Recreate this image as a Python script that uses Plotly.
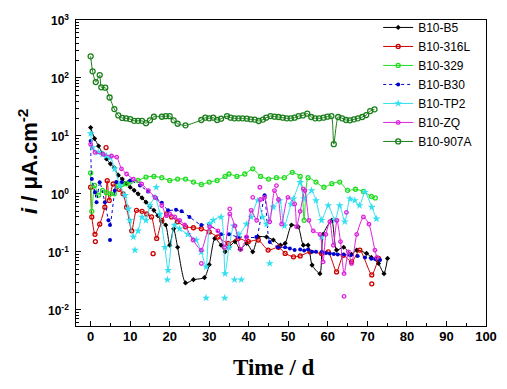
import math
import plotly.graph_objects as go

# ---------------- data ----------------
b5_x = [0, 1, 2, 3, 4, 5, 6, 7, 8, 9, 10, 11, 12, 13, 14, 15, 16, 17, 18, 19, 20, 21, 22, 24, 26, 28.8, 30,
        31.4, 33, 34, 35, 36.5, 37.8, 39.5, 41, 42.4, 44.5, 46.2, 48, 49.2, 50.8, 52.5, 53.8, 55, 56, 58, 58.8,
        61, 62.2, 64, 66, 67.3, 69.8, 71, 72.8, 74.2, 75.1]
b5_y = [13.9, 9.0, 6.7, 5.0, 4.0, 3.3, 2.8, 2.1, 1.8, 1.5, 1.3, 1.15, 1.0, 0.85, 0.72, 0.6, 0.52, 0.42, 0.33,
        0.29, 0.13, 0.25, 0.12, 0.029, 0.033, 0.036, 0.06, 0.17, 0.13, 0.1, 0.12, 0.15, 0.11, 0.14, 0.1, 0.18,
        0.18, 0.16, 0.13, 0.14, 0.29, 0.27, 0.13, 0.13, 0.059, 0.042, 0.2, 0.35, 0.107, 0.12, 0.09, 0.107, 0.094,
        0.08, 0.063, 0.042, 0.077]

l316_x = [0, 0.3, 1.1, 2.3, 3.6, 4.2, 4.7, 5.7, 7.2, 8.2, 9.1, 10.4, 11.6, 13, 14.2, 15.4, 16.7, 18, 19.2, 20.5,
          22, 24, 26, 28, 30, 32.2, 34.8, 37.3, 39.9, 42.4, 44.9, 47.5, 49.2, 51.3, 53, 55.5, 58.4, 60.1, 62.2,
          63.9, 66, 68.1, 71.1, 72.8]
l316_y = [1.3, 0.4, 0.2, 0.3, 0.59, 1.69, 0.77, 1.48, 1.2, 1.0, 0.59, 0.23, 0.52, 0.5, 0.45, 0.4, 0.17, 0.35,
          0.45, 0.4, 0.33, 0.27, 0.26, 0.25, 0.22, 0.18, 0.14, 0.17, 0.15, 0.16, 0.107, 0.12, 0.094, 0.082, 0.085,
          0.1, 0.094, 0.1, 0.045, 0.087, 0.067, 0.107, 0.04, 0.077]
l316_px = [1.2, 3.9, 15.8, 71.1]
l316_py = [0.15, 6.3, 0.093, 0.028]

s329_x = [0, 0.3, 1, 2, 3, 4, 5, 6, 7, 8, 9, 10, 12, 14, 16, 18, 20, 22, 24, 26, 28, 30, 32, 34, 35, 37, 39,
          41, 43, 45, 47, 49, 51, 53, 54, 55, 57, 59, 61, 63, 65, 67, 69, 71, 72]
s329_y = [2.3, 0.5, 1.4, 0.95, 1.15, 1.05, 1.0, 1.0, 1.4, 1.45, 1.5, 1.6, 1.7, 1.95, 2.0, 1.9, 1.7, 1.8, 1.8,
          1.6, 1.45, 1.6, 1.7, 2.0, 2.2, 2.0, 2.2, 2.7, 2.0, 1.8, 1.9, 1.9, 2.35, 2.0, 0.35, 1.9, 1.6, 1.3, 1.5,
          1.6, 1.15, 1.2, 1.1, 0.9, 0.85]

b30_x = [0, 0.3, 1.1, 1.5, 2.3, 3.6, 4.5, 4.9, 6.1, 6.5, 7.8, 10, 12.5, 14.5, 16.5, 18, 19.6, 21.6, 23, 25, 28,
         30, 33, 35, 37.3, 39.5, 41.9, 44, 45.3, 47.4, 49.2, 50.4, 51.6, 53, 54, 55, 56, 57, 58.5, 59.5, 60.5,
         61.5, 62.5, 64, 65.6, 67.5, 69.4, 71, 72, 73.2]
b30_y = [8.2, 1.8, 1.07, 0.72, 1.58, 0.72, 0.35, 0.29, 1.14, 1.6, 1.58, 1.7, 1.39, 1.1, 0.85, 0.7, 0.52, 0.53,
         0.5, 0.4, 0.29, 0.3, 0.2, 0.2, 0.18, 0.18, 0.18, 0.95, 0.148, 0.12, 0.12, 0.114, 0.107, 0.11, 0.105,
         0.11, 0.1, 0.1, 0.1, 0.095, 0.094, 0.092, 0.09, 0.09, 0.087, 0.085, 0.08, 0.076, 0.075, 0.072]
b30_px = [4.9]
b30_py = [0.16]

tp2_x = [0, 0.5, 1.9, 3, 4, 5, 6.1, 7.4, 8.7, 9.5, 9.9, 10.8, 12, 13, 14, 15, 16.3, 17.5, 18.8, 19.6, 21.2,
         22.5, 24.6, 26.7, 28, 29.2, 30.1, 31, 33, 34, 35, 36.2, 37.5, 39.4, 40.6, 42.3, 43.5, 44.5, 46.2, 47.8,
         49, 50.7, 51.3, 53, 54, 55.9, 57, 58.4, 60.1, 61.8, 63, 64.3, 65.6, 66.8, 68, 69.4, 71.1, 72.3]
tp2_y = [11, 6.3, 5.2, 4.8, 4.5, 4.2, 2.7, 1.39, 0.94, 0.55, 0.35, 0.18, 0.23, 0.4, 0.35, 0.63, 0.87, 0.45,
         0.12, 0.048, 0.29, 0.25, 0.2, 0.16, 0.1, 0.055, 0.3, 0.35, 0.4, 0.042, 0.12, 0.28, 0.2, 0.3, 0.4, 0.77,
         0.4, 0.3, 0.59, 0.77, 0.28, 0.67, 0.82, 1.58, 0.82, 1.14, 0.77, 0.35, 0.63, 0.35, 0.63, 0.33, 0.82,
         0.77, 0.63, 1.07, 0.59, 0.37]
tp2_px = [11.2, 16.6, 19.4, 29.2, 33.9, 36.4, 38.1, 45.3, 58.4]
tp2_py = [0.107, 1.3, 0.033, 0.016, 0.016, 0.033, 0.033, 0.063, 0.18]

zq_x = [0, 1.1, 3.2, 5.3, 6.6, 7.8, 9.1, 10.8, 12.9, 14.6, 16.3, 18, 19.2, 20, 21.3, 22.5, 23.8, 25.9, 28,
        30.1, 32.2, 33.9, 35.2, 36.5, 38, 39.4, 40.6, 42, 43, 44, 45.3, 46.5, 47.5, 48.3, 49.9, 51.6, 52.1, 53,
        54.2, 55.2, 56.3, 58, 58.8, 59.5, 60.5, 61.4, 62.3, 63.2, 64.1, 65.2, 66, 67.3, 69, 70.4, 71.9, 72.4]
zq_y = [7.2, 5.2, 4.8, 4.5, 4.3, 2.7, 2.2, 1.8, 1.48, 1.14, 0.87, 0.63, 0.42, 0.45, 0.4, 0.35, 0.29, 0.16,
        0.107, 0.27, 0.23, 0.12, 0.45, 0.28, 0.11, 0.18, 0.52, 0.35, 0.8, 0.87, 0.33, 1.14, 0.8, 0.3, 0.87, 0.67,
        0.27, 0.5, 1.14, 0.35, 0.23, 0.2, 0.067, 0.2, 0.33, 0.13, 0.35, 0.15, 0.042, 0.1, 0.063, 0.2, 0.4, 0.3,
        0.107, 0.08]
zq_px = [28, 35.2, 41, 42.8, 47, 53.8, 64.1, 64.7]
zq_py = [0.063, 0.55, 0.87, 1.3, 1.39, 1.22, 0.017, 0.48]

a907_x = [0, 0.5, 1.3, 2.3, 2.7, 3.7, 4.8, 6, 7, 8, 9, 10, 11, 12, 13, 14, 15, 16, 18, 19, 20, 21, 22, 24, 28,
          29, 30, 31, 32, 33, 34.5, 35.4, 36.4, 37.4, 38.4, 39.5, 40.5, 41.5, 42.5, 43.6, 44.4, 45.5, 46.5,
          47.5, 48.6, 49.6, 50.6, 51.6, 52.6, 53.7, 54.8, 55.8, 56.8, 57.8, 58.9, 59.9, 60.9, 61.5, 62.6, 63.6,
          64.6, 65.6, 66.6, 67.6, 68.7, 69.7, 70.7, 71.8]
a907_y = [236, 130, 85, 112, 69, 68, 46, 29, 22.6, 20.4, 20, 19.5, 18.2, 18.2, 18.2, 16.6, 18.6, 21.4, 21.4,
          21.9, 21.9, 18.6, 16.2, 15.2, 18.8, 20.6, 20.1, 20.6, 18.8, 19.8, 22, 20.6, 20.1, 20.1, 20.1, 19.8,
          19.3, 19.1, 18.1, 19.1, 20.6, 22, 21.5, 21.2, 20.6, 20.1, 20.1, 20.6, 22, 22.6, 24.2, 21.2, 20.1, 20.1,
          20.6, 21.5, 22, 7.2, 21.2, 20.1, 18.8, 18.6, 19.3, 20.1, 21.2, 22.9, 26.8, 28.7]

x_ticks = [0, 10, 20, 30, 40, 50, 60, 70, 80, 90, 100]
y_ticks = [0.01, 0.1, 1, 10, 100, 1000]
y_tick_text = ["10<sup>-2</sup>", "10<sup>-1</sup>", "10<sup>0</sup>", "10<sup>1</sup>", "10<sup>2</sup>",
               "10<sup>3</sup>"]
x_title = "Time / d"
y_title = "<i>i</i> / μA.cm<sup>-2</sup>"

# ---------------- figure ----------------
series = [
    ("B10-B5", b5_x, b5_y, None, None, "#000000", "diamond", 4, "solid"),
    ("B10-316L", l316_x, l316_y, l316_px, l316_py, "#cc0000", "circle-open", 4, "solid"),
    ("B10-329", s329_x, s329_y, None, None, "#22dd22", "circle-open", 4, "solid"),
    ("B10-B30", b30_x, b30_y, b30_px, b30_py, "#0000cc", "circle", 4, "dot"),
    ("B10-TP2", tp2_x, tp2_y, tp2_px, tp2_py, "#33e0f0", "star", 6, "solid"),
    ("B10-ZQ", zq_x, zq_y, zq_px, zq_py, "#dd22dd", "circle-open", 3.5, "solid"),
    ("B10-907A", a907_x, a907_y, None, None, "#1a7f1a", "circle-open", 5, "solid"),
]

fig = go.Figure()
for name, xs, ys, pxs, pys, col, sym, sz, dash in series:
    mk = dict(symbol=sym, size=sz, color=col, line=dict(color=col, width=1.3 if "open" in sym else 0))
    fig.add_trace(go.Scatter(
        x=xs, y=ys, name=name, mode="lines+markers",
        line=dict(color=col, width=1, dash=dash, shape="spline", smoothing=0.6),
        marker=mk,
    ))
    if pxs:
        fig.add_trace(go.Scatter(
            x=pxs, y=pys, mode="markers", showlegend=False, hoverinfo="skip", marker=mk,
        ))

# y tick labels as text placed on the y-axis scale (log axis -> log10 of value)
for v, t in zip(y_ticks, y_tick_text):
    fig.add_annotation(x=-0.013, xref="paper", xanchor="right", y=math.log10(v), yref="y",
                       yanchor="middle", text=t, showarrow=False,
                       font=dict(family="Liberation Sans, Arial", size=12, color="black", weight="bold"))

# axis titles
fig.add_annotation(x=-0.117, xref="paper", y=0.536, yref="paper", xanchor="center", yanchor="middle",
                   text=y_title, textangle=-90, showarrow=False,
                   font=dict(family="Liberation Sans, Arial", size=22, color="black", weight="bold"))
fig.add_annotation(x=0.483, xref="paper", y=-0.137, yref="paper", xanchor="center", yanchor="middle",
                   text=x_title, showarrow=False,
                   font=dict(family="Liberation Serif, Times New Roman", size=23, color="black", weight="bold"))

axis_common = dict(
    showline=True, linecolor="black", linewidth=1.3, mirror=True, showgrid=False, zeroline=False,
    ticks="inside", ticklen=5, tickcolor="black", tickwidth=1,
)

fig.update_layout(
    width=499, height=381,
    margin=dict(l=68, r=21, t=12, b=63, autoexpand=False),
    paper_bgcolor="white", plot_bgcolor="white",
    showlegend=True,
    legend=dict(x=0.737, y=0.987, yref="container", xanchor="left", yanchor="top", bgcolor="rgba(0,0,0,0)",
                font=dict(family="Liberation Sans, Arial", size=12, color="black"),
                tracegroupgap=0, itemwidth=30),
    xaxis=dict(
        range=[-3.7, 100], tickvals=x_ticks, ticklabelstandoff=-2,
        tickfont=dict(family="Liberation Sans, Arial", size=13, color="black", weight="bold"),
        minor=dict(dtick=5, tick0=0, ticks="inside", ticklen=3, tickcolor="black", showgrid=False),
        **axis_common,
    ),
    yaxis=dict(
        type="log", range=[-2.28, 3], tickvals=y_ticks, showticklabels=False,
        minor=dict(dtick="D1", ticks="inside", ticklen=3, tickcolor="black", showgrid=False),
        **axis_common,
    ),
)

fig.write_html("out.html")
